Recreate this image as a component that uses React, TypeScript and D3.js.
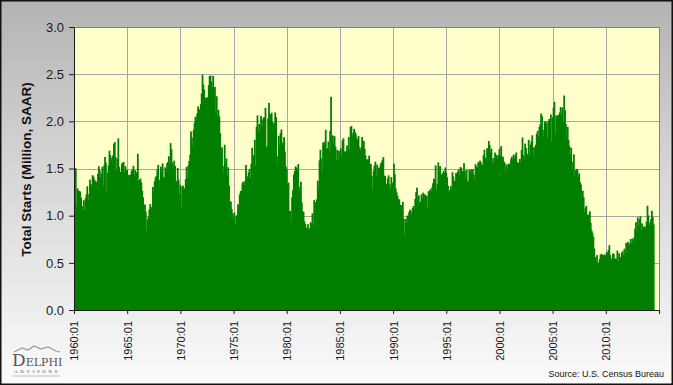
import { useRef, useEffect } from "react";
import * as d3 from "d3";

// monthly total housing starts, thousands SAAR
const starts1960s: number[] = [
    1460, 1503, 1109, 1289, 1266, 1260, 1255, 1191, 1102, 1044, 1164, 1063,
    1183, 1226, 1312, 1166, 1228, 1382, 1335, 1312, 1429, 1415, 1385, 1365,
    1361, 1278, 1443, 1524, 1483, 1404, 1450, 1517, 1324, 1533, 1622, 1564,
    1244, 1456, 1534, 1689, 1641, 1588, 1614, 1639, 1763, 1779, 1622, 1491,
    1603, 1820, 1517, 1448, 1467, 1550, 1562, 1569, 1455, 1524, 1486, 1484,
    1361, 1433, 1423, 1438, 1478, 1488, 1529, 1432, 1482, 1452, 1460, 1656,
    1370, 1378, 1394, 1352, 1265, 1194, 1086, 1119, 1046, 843, 961, 990,
    1067, 1123, 1056, 1091, 1304, 1248, 1364, 1407, 1421, 1491, 1538, 1308,
    1380, 1520, 1466, 1554, 1408, 1405, 1512, 1495, 1556, 1569, 1630, 1548,
    1769, 1705, 1561, 1524, 1583, 1528, 1368, 1358, 1507, 1381, 1229, 1327,
];
const starts1970s: number[] = [
    1085, 1305, 1319, 1264, 1290, 1385, 1517, 1399, 1534, 1580, 1647, 1893,
    1828, 1741, 1910, 1986, 2049, 2026, 2083, 2158, 2041, 2128, 2182, 2295,
    2494, 2390, 2334, 2249, 2221, 2254, 2252, 2382, 2481, 2485, 2421, 2366,
    2481, 2289, 2365, 2084, 2266, 2067, 2123, 2051, 1874, 1677, 1724, 1526,
    1451, 1752, 1555, 1607, 1426, 1513, 1316, 1142, 1150, 1070, 1026, 975,
    1032, 904, 993, 1005, 1121, 1087, 1226, 1260, 1264, 1344, 1360, 1321,
    1367, 1538, 1421, 1395, 1459, 1495, 1401, 1550, 1720, 1629, 1641, 1804,
    1527, 1943, 2063, 1892, 1971, 1893, 2058, 2020, 1949, 2042, 2042, 2142,
    1718, 1738, 2032, 2197, 2075, 2070, 2092, 1996, 1970, 1981, 2094, 2044,
    1630, 1520, 1847, 1748, 1876, 1913, 1760, 1778, 1832, 1681, 1524, 1498,
];
const starts1980s: number[] = [
    1341, 1350, 1047, 1051, 927, 1196, 1269, 1436, 1471, 1523, 1510, 1482,
    1547, 1246, 1306, 1360, 1140, 1045, 1041, 940, 911, 873, 837, 910,
    843, 866, 931, 917, 1025, 902, 1166, 1046, 1144, 1173, 1372, 1303,
    1586, 1699, 1606, 1472, 1776, 1733, 1785, 1910, 1710, 1715, 1785, 1688,
    1897, 2260, 1663, 1851, 1774, 1843, 1732, 1586, 1698, 1590, 1689, 1612,
    1711, 1632, 1800, 1821, 1680, 1676, 1684, 1743, 1676, 1834, 1698, 1942,
    1950, 1848, 1876, 1920, 1890, 1864, 1818, 1810, 1844, 1726, 1692, 1720,
    1833, 1789, 1791, 1707, 1637, 1590, 1596, 1598, 1637, 1513, 1549, 1422,
    1271, 1473, 1532, 1573, 1421, 1541, 1509, 1448, 1511, 1551, 1566, 1593,
    1621, 1425, 1422, 1339, 1331, 1397, 1427, 1332, 1279, 1410, 1351, 1251,
];
const starts1990s: number[] = [
    1551, 1437, 1289, 1248, 1212, 1177, 1171, 1115, 1110, 1014, 1145, 969,
    798, 965, 921, 1001, 996, 1036, 1063, 1049, 1015, 1079, 1103, 1079,
    1176, 1250, 1297, 1099, 1214, 1145, 1139, 1226, 1186, 1244, 1214, 1227,
    1210, 1210, 1083, 1258, 1260, 1280, 1254, 1300, 1343, 1392, 1376, 1533,
    1272, 1337, 1564, 1465, 1526, 1409, 1439, 1450, 1474, 1450, 1511, 1455,
    1407, 1316, 1249, 1267, 1314, 1281, 1461, 1416, 1369, 1369, 1452, 1431,
    1467, 1491, 1424, 1516, 1504, 1467, 1472, 1557, 1475, 1392, 1489, 1370,
    1355, 1486, 1457, 1492, 1442, 1494, 1437, 1390, 1546, 1520, 1510, 1566,
    1525, 1584, 1567, 1540, 1536, 1641, 1698, 1614, 1582, 1715, 1660, 1792,
    1748, 1670, 1710, 1553, 1611, 1559, 1669, 1648, 1635, 1608, 1648, 1708,
];
const starts2000s: number[] = [
    1636, 1737, 1604, 1626, 1575, 1559, 1463, 1541, 1507, 1549, 1551, 1532,
    1600, 1625, 1590, 1649, 1605, 1636, 1670, 1567, 1562, 1540, 1602, 1568,
    1698, 1829, 1642, 1592, 1764, 1717, 1655, 1633, 1804, 1648, 1753, 1788,
    1853, 1629, 1726, 1643, 1751, 1867, 1897, 1833, 1939, 1967, 2083, 2057,
    1911, 1846, 1998, 2003, 1981, 1828, 2002, 2024, 1905, 2072, 1782, 2042,
    2144, 2207, 1864, 2061, 2025, 2068, 2054, 2095, 2151, 2065, 2147, 1994,
    2273, 2119, 1969, 1821, 1942, 1802, 1737, 1650, 1720, 1491, 1570, 1649,
    1409, 1480, 1495, 1490, 1415, 1448, 1354, 1330, 1183, 1264, 1197, 1037,
    1084, 1103, 1005, 1013, 973, 1046, 923, 844, 820, 777, 652, 560,
    490, 582, 505, 478, 540, 585, 594, 586, 585, 534, 588, 581,
];
const starts2010s: number[] = [
    614, 604, 636, 687, 583, 536, 546, 599, 594, 543, 545, 539,
    630, 517, 600, 554, 561, 608, 623, 585, 650, 610, 711, 694,
    723, 704, 695, 753, 708, 757, 728, 769, 863, 930, 841, 983,
    888, 962, 994, 847, 917, 841, 883, 885, 863, 936, 1105, 1003,
    897, 928, 963, 1052, 985, 909,
];

const startYear = 1960;
const endYear = 2015;
const xTickYears = [1960, 1965, 1970, 1975, 1980, 1985, 1990, 1995, 2000, 2005, 2010, 2015];
const yTicks = [0, 0.5, 1.0, 1.5, 2.0, 2.5, 3.0];
const yTitle = "Total Starts (Million, SAAR)";
const sourceText = "Source:  U.S. Census Bureau";

const W = 673;
const H = 385;
const margin = { top: 27, right: 14, bottom: 75, left: 74 };
const font = "'Liberation Sans', Arial, sans-serif";

export default function App() {
    const svgRef = useRef<SVGSVGElement | null>(null);

    useEffect(() => {
        if (!svgRef.current) return;
        const svg = d3.select(svgRef.current);
        svg.selectAll("*").remove();

        const values = [...starts1960s, ...starts1970s, ...starts1980s, ...starts1990s, ...starts2000s, ...starts2010s];
        const nMonths = (endYear - startYear) * 12;

        const x = d3.scaleLinear().domain([0, nMonths]).range([margin.left, W - margin.right]);
        const y = d3.scaleLinear().domain([0, 3]).range([H - margin.bottom, margin.top]);

        // background gradient
        const defs = svg.append("defs");
        const grad = defs.append("linearGradient").attr("id", "bg").attr("x1", 0).attr("y1", 0).attr("x2", 0).attr("y2", 1);
        grad.append("stop").attr("offset", "0%").attr("stop-color", "#b3b3b3");
        grad.append("stop").attr("offset", "45%").attr("stop-color", "#d6d6d6");
        grad.append("stop").attr("offset", "100%").attr("stop-color", "#fbfbfb");

        svg.append("rect").attr("x", 0).attr("y", 0).attr("width", W).attr("height", H).attr("fill", "url(#bg)");

        // plot area
        svg.append("rect")
            .attr("x", x(0)).attr("y", y(3))
            .attr("width", x(nMonths) - x(0)).attr("height", y(0) - y(3))
            .attr("fill", "#ffffcc");

        // gridlines
        const grid = svg.append("g").attr("stroke", "#a6a6a6").attr("stroke-width", 1);
        yTicks.slice(1).forEach((t) => {
            grid.append("line").attr("x1", x(0)).attr("x2", x(nMonths))
                .attr("y1", Math.round(y(t)) + 0.5).attr("y2", Math.round(y(t)) + 0.5);
        });
        xTickYears.slice(1, -1).forEach((yr) => {
            const xx = Math.round(x((yr - startYear) * 12)) + 0.5;
            grid.append("line").attr("x1", xx).attr("x2", xx).attr("y1", y(3)).attr("y2", y(0));
        });

        // bars (slight overlap so antialiasing leaves no seams)
        svg.append("g").attr("fill", "#007f00")
            .selectAll("rect")
            .data(values)
            .join("rect")
            .attr("x", (_d, i) => x(i))
            .attr("width", (_d, i) => x(i + 1) - x(i) + 0.9)
            .attr("y", (d) => y(d / 1000))
            .attr("height", (d) => y(0) - y(d / 1000));

        // plot border top/right
        svg.append("path")
            .attr("d", `M${x(0)},${y(3) + 0.5}H${x(nMonths) + 0.5}V${y(0)}`)
            .attr("fill", "none").attr("stroke", "#7f7f7f").attr("stroke-width", 1);

        // y axis
        const yAxis = d3.axisLeft(y).tickValues(yTicks).tickFormat(d3.format(".1f")).tickSize(5).tickSizeOuter(0);
        const gy = svg.append("g").attr("transform", `translate(${x(0)},0)`).call(yAxis);
        gy.select(".domain").attr("stroke", "#1a1a1a");
        gy.selectAll(".tick line").attr("stroke", "#1a1a1a");
        gy.selectAll(".tick text")
            .attr("x", -10)
            .style("font-family", font).style("font-size", "13px").attr("fill", "#1a1a1a");

        // x axis
        const xAxis = d3.axisBottom(x)
            .tickValues(xTickYears.map((yr) => (yr - startYear) * 12))
            .tickFormat((d: any) => (+d < nMonths ? `${startYear + +d / 12}:01` : ""))
            .tickSize(4).tickSizeOuter(0);
        const gx = svg.append("g").attr("transform", `translate(0,${y(0)})`).call(xAxis);
        gx.select(".domain").attr("stroke", "#1a1a1a");
        gx.selectAll(".tick line").attr("stroke", "#1a1a1a");
        gx.selectAll(".tick text")
            .attr("transform", "rotate(-90)")
            .attr("text-anchor", "end")
            .attr("x", -11).attr("y", 0).attr("dy", "0.36em")
            .style("font-family", font).style("font-size", "11px").attr("fill", "#1a1a1a");

        // y title
        svg.append("text")
            .attr("transform", `translate(31,${(y(0) + y(3)) / 2 + 1}) rotate(-90)`)
            .attr("text-anchor", "middle")
            .style("font-family", font).style("font-size", "13.5px").style("font-weight", "bold")
            .attr("fill", "#111")
            .text(yTitle);

        // source
        svg.append("text")
            .attr("x", 664).attr("y", 377)
            .attr("text-anchor", "end")
            .style("font-family", font).style("font-size", "9px").attr("fill", "#111")
            .text(sourceText);

        // logo
        const logo = svg.append("g").attr("transform", "translate(10,346)");
        logo.append("path")
            .attr("d", "M4,6 L12,2 L18,4 L24,0 L31,3 L38,1 L46,5 L50,6")
            .attr("fill", "none").attr("stroke", "#9a9a9a").attr("stroke-width", 1.2);
        logo.append("text")
            .attr("x", 2).attr("y", 20)
            .style("font-family", "'DejaVu Serif', 'Liberation Serif', serif")
            .attr("fill", "#555")
            .call((t) => {
                t.append("tspan").style("font-size", "17px").text("D");
                t.append("tspan").style("font-size", "11px").text("ELPHI");
            });
        logo.append("text")
            .attr("x", 4).attr("y", 27)
            .style("font-family", "'Liberation Serif', serif").style("font-size", "5px")
            .style("letter-spacing", "2.6px").attr("fill", "#555")
            .text("ADVISORS");
        logo.append("line").attr("x1", 3).attr("x2", 50).attr("y1", 30).attr("y2", 30)
            .attr("stroke", "#b0b0b0").attr("stroke-width", 0.8);

        // outer frame
        svg.append("rect").attr("x", 0.75).attr("y", 0.75).attr("width", W - 1.5).attr("height", H - 1.5)
            .attr("fill", "none").attr("stroke", "#111").attr("stroke-width", 1.5);
    }, []);

    return (
        <svg ref={svgRef} width={W} height={H}
            style={{ position: "absolute", left: 0, top: 0, display: "block" }} />
    );
}
